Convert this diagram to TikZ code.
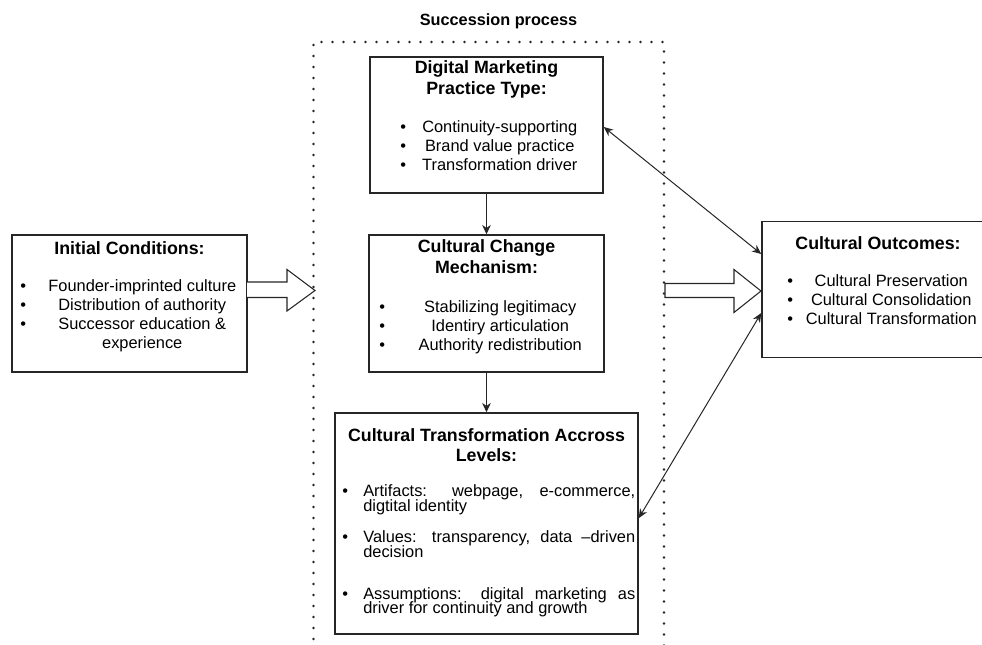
\documentclass[tikz,border=0pt]{standalone}
\usepackage{fontspec}
\setmainfont{Liberation Sans}
\usepackage{array}
\usetikzlibrary{arrows.meta, positioning}

\tikzset{
  box/.style 2 args={draw=black!85, line width=1.1pt, minimum width=#1, minimum height=#2, inner sep=0pt},
  heading/.style={anchor=base, inner sep=0pt, font=\fontsize{13.35}{15.6}\selectfont\bfseries},
  bullets/.style={anchor=base west, inner sep=0pt, font=\fontsize{12.3}{14.2}\selectfont},
  levelitem/.style={anchor=base west, inner sep=0pt, font=\fontsize{12.3}{10.9}\selectfont},
  conn/.style={draw=black!85, line width=0.8pt, -{Stealth[length=7pt,width=6.5pt]}},
  link/.style={draw=black!85, line width=0.75pt, {Stealth[length=7pt,width=6pt]}-{Stealth[length=7pt,width=6pt]}},
  blockarrow/.style={draw=black!85, line width=0.8pt, fill=white, line join=miter},
  frame/.style={draw=black!85, line width=2.2pt, line cap=round, dash pattern=on 0pt off 8.25pt}
}

\begin{document}
\begin{tikzpicture}[x=0.75pt, y=-0.75pt]
  \useasboundingbox (0,0) rectangle (982,645);

  % succession frame
  \draw[frame] (313.5,650) -- (313.5,42) -- (664,42) -- (664,650);
  \node[heading, font=\fontsize{12.2}{14}\selectfont\bfseries] (succ) at (498.5,26) {Succession process};

  % boxes
  \node[box={176.25pt}{102.75pt}] (init) at (129.5,303.5) {};
  \node[box={174.75pt}{102pt}] (dmp) at (486.5,125) {};
  \node[box={176.25pt}{102.75pt}] (ccm) at (486.5,303.5) {};
  \node[box={227.25pt}{165.75pt}] (ctl) at (486.5,523.5) {};
  \node[box={174pt}{102pt}] (out) at (878,289.5) {};

  % initial conditions
  \node[heading] (init-t) at (129.5,255) {Initial Conditions:};
  \node[bullets] (init-l) at (13,291.5) {%
    \begin{tabular}[t]{@{}>{\centering\arraybackslash}p{15pt}@{}>{\centering\arraybackslash}p{163.5pt}@{}}
      \textbullet & Founder-imprinted culture\\
      \textbullet & Distribution of authority\\
      \textbullet & Successor education \&\par experience
    \end{tabular}};

  % digital marketing practice
  \node[heading] (dmp-t) at (486.5,74) {%
    \begin{tabular}[t]{@{}c@{}}Digital Marketing\\Practice Type:\end{tabular}};
  \node[bullets] (dmp-l) at (393,132.7) {%
    \begin{tabular}[t]{@{}>{\centering\arraybackslash}p{15pt}@{}>{\centering\arraybackslash}p{129.75pt}@{}}
      \textbullet & Continuity-supporting\\
      \textbullet & Brand value practice\\
      \textbullet & Transformation driver
    \end{tabular}};

  % cultural change mechanism
  \node[heading] (ccm-t) at (486.5,252.7) {%
    \begin{tabular}[t]{@{}c@{}}Cultural Change\\Mechanism:\end{tabular}};
  \node[bullets] (ccm-l) at (372,312.7) {%
    \begin{tabular}[t]{@{}>{\centering\arraybackslash}p{15pt}@{}>{\centering\arraybackslash}p{162pt}@{}}
      \textbullet & Stabilizing legitimacy\\
      \textbullet & Identiry articulation\\
      \textbullet & Authority redistribution
    \end{tabular}};

  % cultural transformation across levels
  \node[heading] (ctl-t) at (486.5,441) {%
    \begin{tabular}[t]{@{}c@{}}Cultural Transformation Accross\\Levels:\end{tabular}};
  \node[levelitem] (ctl-a) at (335,496.7) {%
    \begin{tabular}[t]{@{}>{\centering\arraybackslash}p{15pt}@{\hspace{6pt}}>{\hyphenpenalty=10000\exhyphenpenalty=10000\lineskiplimit=-5pt}p{204pt}@{}}
      \textbullet & Artifacts: webpage, e-commerce, digtital identity
    \end{tabular}};
  \node[levelitem] (ctl-v) at (335,542.7) {%
    \begin{tabular}[t]{@{}>{\centering\arraybackslash}p{15pt}@{\hspace{6pt}}>{\hyphenpenalty=10000\exhyphenpenalty=10000\lineskiplimit=-5pt}p{204pt}@{}}
      \textbullet & Values: transparency, data –driven decision
    \end{tabular}};
  \node[levelitem] (ctl-s) at (335,599.3) {%
    \begin{tabular}[t]{@{}>{\centering\arraybackslash}p{15pt}@{\hspace{6pt}}>{\hyphenpenalty=10000\exhyphenpenalty=10000\lineskiplimit=-5pt}p{204pt}@{}}
      \textbullet & Assumptions: digital marketing as driver for continuity and growth
    \end{tabular}};

  % cultural outcomes
  \node[heading] (out-t) at (878,250) {Cultural Outcomes:};
  \node[bullets] (out-l) at (780,286.7) {%
    \begin{tabular}[t]{@{}>{\centering\arraybackslash}p{15pt}@{}>{\centering\arraybackslash}p{136.5pt}@{}}
      \textbullet & Cultural Preservation\\
      \textbullet & Cultural Consolidation\\
      \textbullet & Cultural Transformation
    \end{tabular}};

  % block arrows
  \draw[blockarrow] (247,282) -- (287,282) -- (287,269.5) -- (315,290.5) -- (287,311) -- (287,297.5) -- (247,297.5);
  \draw[blockarrow] (665,283.5) -- (734,283.5) -- (734,269.5) -- (761,291) -- (734,312.5) -- (734,297.5) -- (665,297.5) -- cycle;

  % connectors
  \draw[conn] (dmp) -- (ccm);
  \draw[conn] (ccm) -- (ctl);
  \draw[link] ([yshift=-1.5pt]dmp.east) -- ([yshift=26.6pt]out.west);
  \draw[link] ([yshift=-17.6pt]out.west) -- ([yshift=4pt]ctl.east);
\end{tikzpicture}
\end{document}
